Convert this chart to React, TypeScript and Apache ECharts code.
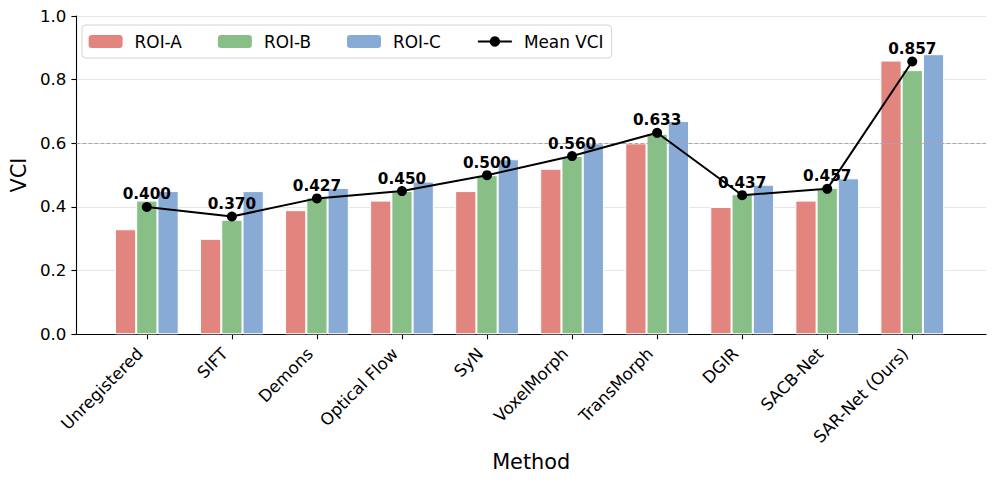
import React, { useEffect, useRef } from "react";
import * as echarts from "echarts";

const categories = [
  "Unregistered",
  "SIFT",
  "Demons",
  "Optical Flow",
  "SyN",
  "VoxelMorph",
  "TransMorph",
  "DGIR",
  "SACB-Net",
  "SAR-Net (Ours)",
];
const roiA = [0.33, 0.3, 0.39, 0.42, 0.45, 0.52, 0.6, 0.4, 0.42, 0.86];
const roiB = [0.42, 0.36, 0.43, 0.45, 0.5, 0.56, 0.63, 0.44, 0.46, 0.83];
const roiC = [0.45, 0.45, 0.46, 0.48, 0.55, 0.6, 0.67, 0.47, 0.49, 0.88];
const meanVci = [0.4, 0.37, 0.427, 0.45, 0.5, 0.56, 0.633, 0.437, 0.457, 0.857];
const yMin = 0;
const yMax = 1.0;
const yStep = 0.2;
const referenceLine = 0.6;

const FONT = "DejaVu Sans";
const colA = "#E2857E";
const colB = "#88BF86";
const colC = "#88ABD6";

export default function App() {
  const ref = useRef<HTMLDivElement>(null);
  useEffect(() => {
    if (!ref.current) return;
    const chart = echarts.init(ref.current, undefined, { renderer: "svg" });
    const barCommon = {
      type: "bar",
      xAxisIndex: 1,
      yAxisIndex: 1,
      barWidth: 21.25,
      barGap: "0%",
      z: 2,
    };
    chart.setOption({
      animation: false,
      backgroundColor: "#ffffff",
      textStyle: { fontFamily: FONT },
      grid: [
        { left: 73, right: 10, top: 16, bottom: 149.7, containLabel: false },
        { left: 104.3, right: 41.2, top: 16, bottom: 149.7, containLabel: false },
      ],
      legend: {
        left: 82,
        top: 25,
        padding: [8, 8, 8, 6.6],
        itemGap: 36,
        itemWidth: 34,
        itemHeight: 13,
        backgroundColor: "#ffffff",
        borderColor: "#d4d4d4",
        borderWidth: 1,
        borderRadius: 4,
        textStyle: {
          fontFamily: FONT,
          fontSize: 16.9,
          color: "#000",
          lineHeight: 17,
          padding: [0, 0, 0, 7],
        },
        itemStyle: { borderWidth: 0 },
        data: ["ROI-A", "ROI-B", "ROI-C", "Mean VCI"],
      },
      xAxis: [
        {
          type: "value",
          gridIndex: 0,
          min: 0,
          max: 1,
          axisLine: { show: true, lineStyle: { color: "#000", width: 1.1 } },
          axisTick: { show: false },
          axisLabel: { show: false },
          splitLine: { show: false },
          name: "Method",
          nameLocation: "middle",
          nameGap: 117,
          nameTextStyle: { fontFamily: FONT, fontSize: 20.83, color: "#000" },
        },
        {
          type: "category",
          gridIndex: 1,
          data: categories,
          boundaryGap: true,
          axisLine: { show: false },
          axisTick: {
            show: true,
            alignWithLabel: true,
            length: 5,
            lineStyle: { color: "#000", width: 1.1 },
          },
          axisLabel: {
            rotate: 45,
            margin: 10,
            interval: 0,
            fontFamily: FONT,
            fontSize: 16.67,
            color: "#000",
            padding: [0, 9.5, 0, 0],
          },
        },
      ],
      yAxis: [
        {
          type: "value",
          gridIndex: 0,
          min: yMin,
          max: yMax,
          interval: yStep,
          axisLine: { show: true, lineStyle: { color: "#000", width: 1.1 } },
          axisTick: { show: true, length: 5, lineStyle: { color: "#000", width: 1.1 } },
          axisLabel: {
            margin: 10,
            fontFamily: FONT,
            fontSize: 16.67,
            color: "#000",
            formatter: (v: number) => v.toFixed(1),
          },
          splitLine: { show: true, lineStyle: { color: "#e6e6e6", width: 1 } },
          name: "VCI",
          nameLocation: "middle",
          nameGap: 44,
          nameTextStyle: { fontFamily: FONT, fontSize: 20.83, color: "#000" },
        },
        {
          type: "value",
          gridIndex: 1,
          min: yMin,
          max: yMax,
          interval: yStep,
          show: false,
          splitLine: { show: false },
        },
      ],
      series: [
        {
          type: "line",
          xAxisIndex: 0,
          yAxisIndex: 0,
          data: [],
          silent: true,
          z: 1,
          markLine: {
            silent: true,
            symbol: "none",
            label: { show: false },
            lineStyle: { color: "#a8a8a8", width: 1, type: [4, 2] },
            data: [{ yAxis: referenceLine }],
          },
        },
        {
          ...barCommon,
          name: "ROI-A",
          data: roiA,
          itemStyle: { color: colA, borderColor: "#ffffff", borderWidth: 1 },
        },
        {
          ...barCommon,
          name: "ROI-B",
          data: roiB,
          itemStyle: { color: colB, borderColor: "#ffffff", borderWidth: 1 },
        },
        {
          ...barCommon,
          name: "ROI-C",
          data: roiC,
          itemStyle: { color: colC, borderColor: "#ffffff", borderWidth: 1 },
        },
        {
          type: "line",
          name: "Mean VCI",
          xAxisIndex: 1,
          yAxisIndex: 1,
          data: meanVci,
          z: 5,
          symbol: "circle",
          symbolSize: 10,
          lineStyle: { color: "#000", width: 2 },
          itemStyle: { color: "#000" },
          label: {
            show: true,
            position: "top",
            distance: 0,
            fontFamily: FONT,
            fontWeight: "bold",
            fontSize: 15.28,
            color: "#000",
            formatter: (p: any) => Number(p.value).toFixed(3),
          },
        },
      ],
    });
    return () => chart.dispose();
  }, []);
  return (
    <div
      ref={ref}
      style={{ position: "fixed", left: 0, top: 0, width: 996, height: 484, background: "#fff" }}
    />
  );
}
